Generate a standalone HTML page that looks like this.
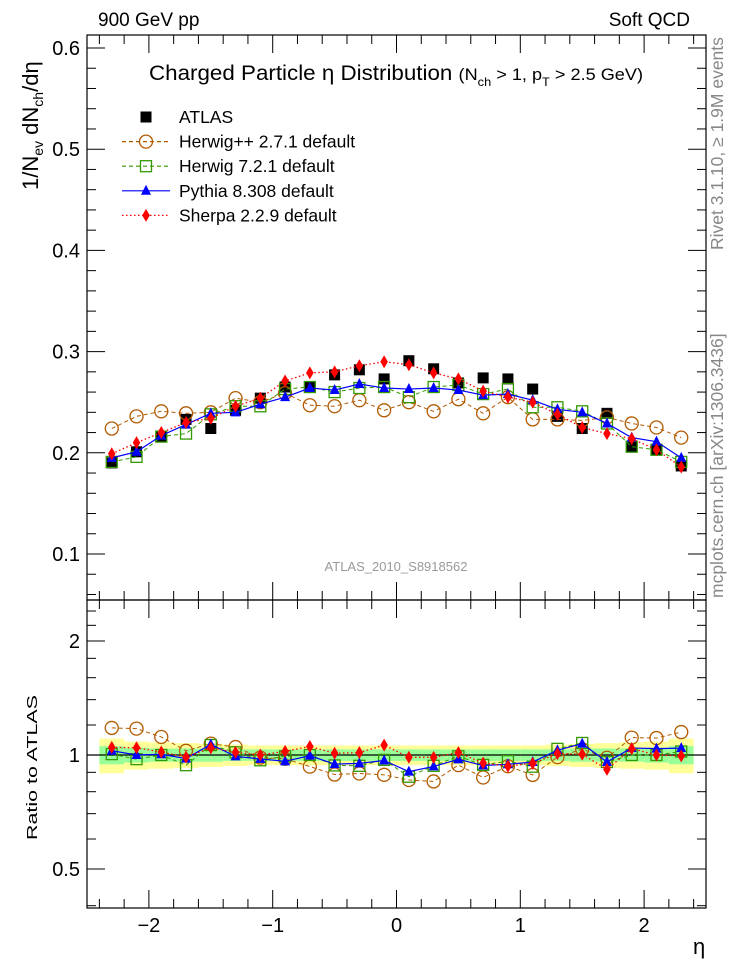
<!DOCTYPE html>
<html><head><meta charset="utf-8">
<style>
html,body{margin:0;padding:0;background:#fff;}
svg{display:block;font-family:"Liberation Sans",sans-serif;}
</style></head>
<body>
<svg id="chart" width="746" height="972" viewBox="0 0 746 972" xmlns="http://www.w3.org/2000/svg">
<text x="98" y="26" font-size="19">900 GeV pp</text>
<text x="690" y="26" font-size="19" text-anchor="end">Soft QCD</text>
<text x="149" y="80" font-size="21" textLength="494" lengthAdjust="spacingAndGlyphs">Charged Particle  η Distribution <tspan font-size="17">(N</tspan><tspan font-size="12" dy="6">ch</tspan><tspan font-size="17" dy="-6"> &gt; 1, p</tspan><tspan font-size="12" dy="6">T</tspan><tspan font-size="17" dy="-6"> &gt; 2.5 GeV)</tspan></text>
<text transform="translate(38,190) rotate(-90)" font-size="22">1/N<tspan font-size="14" dy="5">ev</tspan><tspan dy="-5"> dN</tspan><tspan font-size="14" dy="5">ch</tspan><tspan dy="-5">/dη</tspan></text>
<text transform="translate(37,840) rotate(-90)" font-size="15" textLength="145" lengthAdjust="spacingAndGlyphs">Ratio to ATLAS</text>
<text transform="translate(723,250) rotate(-90)" font-size="17.5" fill="#888">Rivet 3.1.10, ≥ 1.9M events</text>
<text transform="translate(723,598) rotate(-90)" font-size="17.5" fill="#888">mcplots.cern.ch [arXiv:1306.3436]</text>
<text x="396" y="571" font-size="13" fill="#999" text-anchor="middle">ATLAS_2010_S8918562</text>
<text x="693" y="954" font-size="22">η</text>
<g id="legend"></g>
<g id="bands"></g>
<g id="axes"></g>
<g id="series"></g>
</svg>
<script>
const etaCenters=[-2.3,-2.1,-1.9,-1.7,-1.5,-1.3,-1.1,-0.9,-0.7,-0.5,-0.3,-0.1,0.1,0.3,0.5,0.7,0.9,1.1,1.3,1.5,1.7,1.9,2.1,2.3];
const atlasValues=[0.190,0.201,0.216,0.233,0.224,0.242,0.254,0.265,0.265,0.277,0.282,0.273,0.291,0.283,0.269,0.274,0.273,0.263,0.236,0.224,0.239,0.206,0.203,0.187];
const herwigppValues=[0.224,0.236,0.241,0.239,0.240,0.254,0.250,0.259,0.247,0.246,0.252,0.242,0.250,0.241,0.253,0.239,0.255,0.233,0.233,0.232,0.235,0.229,0.225,0.215];
const herwig7Values=[0.191,0.196,0.216,0.219,0.238,0.246,0.246,0.263,0.265,0.260,0.264,0.265,0.255,0.265,0.267,0.258,0.263,0.245,0.245,0.241,0.229,0.206,0.203,0.191];
const pythiaValues=[0.195,0.201,0.217,0.228,0.239,0.240,0.248,0.255,0.264,0.262,0.268,0.264,0.263,0.264,0.262,0.257,0.258,0.252,0.243,0.240,0.229,0.215,0.211,0.195];
const sherpaValues=[0.199,0.210,0.220,0.230,0.234,0.246,0.254,0.271,0.279,0.280,0.286,0.290,0.287,0.279,0.273,0.261,0.255,0.250,0.238,0.225,0.219,0.214,0.203,0.186];
const yellowBand=[0.105,0.085,0.08,0.075,0.07,0.065,0.06,0.06,0.06,0.06,0.06,0.06,0.06,0.06,0.06,0.06,0.06,0.06,0.065,0.07,0.075,0.08,0.085,0.105];
const greenBand=[0.055,0.045,0.04,0.04,0.04,0.035,0.035,0.035,0.035,0.035,0.035,0.035,0.035,0.035,0.035,0.035,0.035,0.035,0.035,0.04,0.04,0.04,0.045,0.055];
const mainTicks=[0.1,0.2,0.3,0.4,0.5,0.6];
const ratioTicks=[0.5,1,2];
const xTicks=[-2,-1,0,1,2];

const NS="http://www.w3.org/2000/svg";
const L=87,R=706,T=35,MB=600,RB=908;
const X=v=>L+(v+2.5)/5*(R-L);
const Y=v=>554-(v-0.1)*1012;
const YR=v=>755-Math.log2(v)*114;
function mk(tag,attrs,parent){const e=document.createElementNS(NS,tag);for(const k in attrs)e.setAttribute(k,attrs[k]);parent.appendChild(e);return e;}
const axes=document.getElementById('axes'),bands=document.getElementById('bands'),series=document.getElementById('series'),legend=document.getElementById('legend');

etaCenters.forEach((c,i)=>{
  const x0=X(c-0.1),x1=X(c+0.1);
  const y=mk('rect',{x:x0,y:YR(1+yellowBand[i]),width:x1-x0,height:YR(1-yellowBand[i])-YR(1+yellowBand[i]),fill:'#ffff99'},bands);
  
  
  const g=mk('rect',{x:x0,y:YR(1+greenBand[i]),width:x1-x0,height:YR(1-greenBand[i])-YR(1+greenBand[i]),fill:'#99ff99'},bands);
  
  
});
mk('line',{x1:L,x2:R,y1:YR(1),y2:YR(1),stroke:'#000','stroke-width':1.2},bands);

mk('rect',{x:L,y:T,width:R-L,height:MB-T,fill:'none',stroke:'#000','stroke-width':1.2},axes);
mk('rect',{x:L,y:MB,width:R-L,height:RB-MB,fill:'none',stroke:'#000','stroke-width':1.2},axes);
for(let k=-25;k<=25;k++){const v=k/10;if(Math.abs(k)%2)continue;const major=k%10===0;const len=major?18:9;const x=X(v);
  [[T,1],[MB,-1],[MB,1],[RB,-1]].forEach(([y0,d])=>mk('line',{x1:x,x2:x,y1:y0,y2:y0+d*len,stroke:'#000','stroke-width':1},axes));}
xTicks.forEach(v=>{const t=mk('text',{x:X(v),y:932,'font-size':20,'text-anchor':'middle'},axes);t.textContent=(v<0?'−':'')+Math.abs(v);
  
  });
for(let k=3;k<=30;k++){const v=k*0.02;const y=Y(v);if(y<T||y>MB)continue;const major=k%5===0;const len=major?18:9;
  mk('line',{x1:L,x2:L+len,y1:y,y2:y,stroke:'#000'},axes);mk('line',{x1:R,x2:R-len,y1:y,y2:y,stroke:'#000'},axes);}
mainTicks.forEach(v=>{const t=mk('text',{x:80,y:Y(v)+7,'font-size':20,'text-anchor':'end'},axes);t.textContent=v.toFixed(1);
  
  });
const rminor=[0.4,0.5,0.6,0.7,0.8,0.9,1,1.2,1.4,1.6,1.8,2,2.2,2.4];
rminor.forEach(v=>{const y=YR(v);if(y<MB||y>RB)return;const major=ratioTicks.includes(v);const len=major?18:9;
  mk('line',{x1:L,x2:L+len,y1:y,y2:y,stroke:'#000'},axes);mk('line',{x1:R,x2:R-len,y1:y,y2:y,stroke:'#000'},axes);});
ratioTicks.forEach(v=>{const t=mk('text',{x:80,y:YR(v)+7,'font-size':20,'text-anchor':'end'},axes);t.textContent=String(v);
  
  });

function marker(type,x,y,parent){
  if(type==='sq')return mk('rect',{x:x-5.5,y:y-5.5,width:11,height:11,fill:'#000'},parent);
  if(type==='circ')return mk('circle',{cx:x,cy:y,r:6.5,fill:'none',stroke:'#b35a00','stroke-width':1.3},parent);
  if(type==='osq')return mk('rect',{x:x-5.5,y:y-5.5,width:11,height:11,fill:'none',stroke:'#339900','stroke-width':1.3},parent);
  if(type==='tri')return mk('polygon',{points:`${x},${y-6} ${x-5},${y+4} ${x+5},${y+4}`,fill:'#0000ff'},parent);
  if(type==='dia')return mk('polygon',{points:`${x},${y-6.5} ${x-3.8},${y} ${x},${y+6.5} ${x+3.8},${y}`,fill:'#ff0000'},parent);
}
const models=[
 {name:'herwigpp',vals:herwigppValues,m:'circ',c:'#b35a00',dash:'4,3',w:1},
 {name:'herwig7',vals:herwig7Values,m:'osq',c:'#339900',dash:'4,3',w:1},
 {name:'pythia',vals:pythiaValues,m:'tri',c:'#0000ff',dash:'',w:1.2},
 {name:'sherpa',vals:sherpaValues,m:'dia',c:'#ff0000',dash:'1.5,2.5',w:1.3}
];
etaCenters.forEach((c,i)=>{const e=marker('sq',X(c),Y(atlasValues[i]),series);
  
  });
models.forEach(md=>{
  const g=mk('g',{},series);
  
  
  const pts=etaCenters.map((c,i)=>X(c)+','+Y(md.vals[i])).join(' ');
  mk('polyline',{points:pts,fill:'none',stroke:md.c,'stroke-width':md.w,'stroke-dasharray':md.dash},g);
  const rpts=etaCenters.map((c,i)=>X(c)+','+YR(md.vals[i]/atlasValues[i])).join(' ');
  mk('polyline',{points:rpts,fill:'none',stroke:md.c,'stroke-width':md.w,'stroke-dasharray':md.dash},g);
  etaCenters.forEach((c,i)=>{
    const e=marker(md.m,X(c),Y(md.vals[i]),g);
    
    
    const r=marker(md.m,X(c),YR(md.vals[i]/atlasValues[i]),g);
    
    
  });
});
const legItems=[['ATLAS','sq','',''],['Herwig++ 2.7.1 default','circ','#b35a00','4,3'],['Herwig 7.2.1 default','osq','#339900','4,3'],['Pythia 8.308 default','tri','#0000ff',''],['Sherpa 2.2.9 default','dia','#ff0000','1.5,2.5']];
legItems.forEach((it,i)=>{const y=117+i*24.6;
  const g=mk('g',{},legend);
  
  
  if(it[2])mk('line',{x1:122,x2:170,y1:y,y2:y,stroke:it[2],'stroke-dasharray':it[3],'stroke-width':1.2},g);
  marker(it[1],146,y,g);
  const t=mk('text',{x:179,y:y+6,'font-size':17.5},g);t.textContent=it[0];});
</script>
</body></html>
